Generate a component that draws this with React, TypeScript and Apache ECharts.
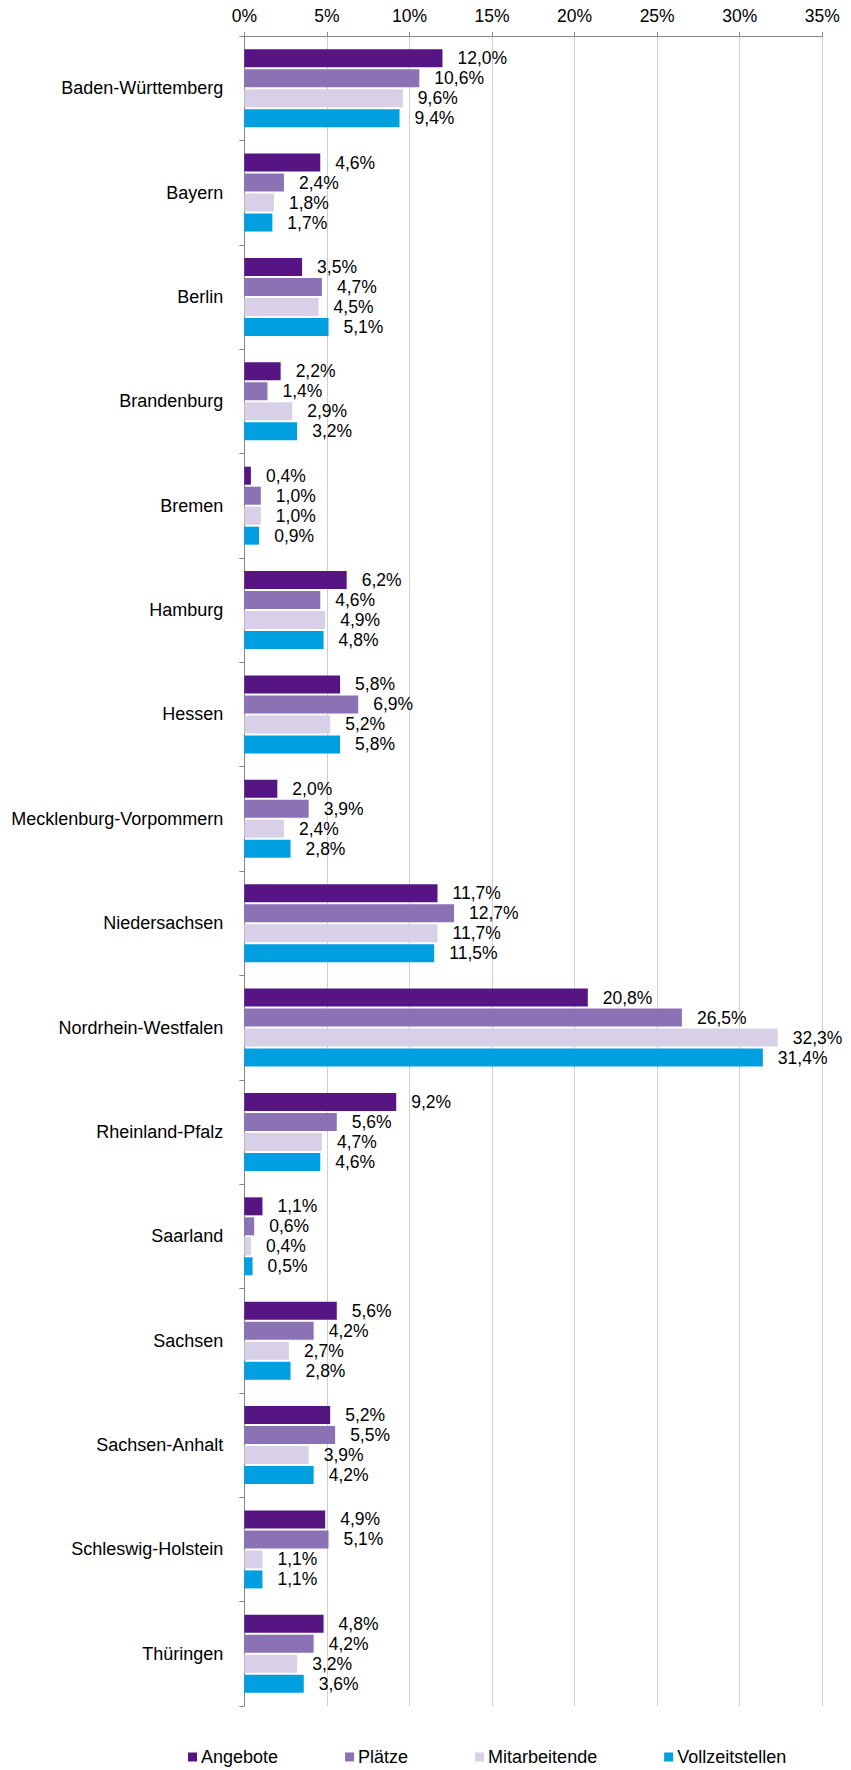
import React, { useEffect, useRef } from "react";
import * as echarts from "echarts";

const categories = [
  "Baden-Württemberg",
  "Bayern",
  "Berlin",
  "Brandenburg",
  "Bremen",
  "Hamburg",
  "Hessen",
  "Mecklenburg-Vorpommern",
  "Niedersachsen",
  "Nordrhein-Westfalen",
  "Rheinland-Pfalz",
  "Saarland",
  "Sachsen",
  "Sachsen-Anhalt",
  "Schleswig-Holstein",
  "Thüringen",
];

const angebote = [12.0, 4.6, 3.5, 2.2, 0.4, 6.2, 5.8, 2.0, 11.7, 20.8, 9.2, 1.1, 5.6, 5.2, 4.9, 4.8];
const plaetze = [10.6, 2.4, 4.7, 1.4, 1.0, 4.6, 6.9, 3.9, 12.7, 26.5, 5.6, 0.6, 4.2, 5.5, 5.1, 4.2];
const mitarbeitende = [9.6, 1.8, 4.5, 2.9, 1.0, 4.9, 5.2, 2.4, 11.7, 32.3, 4.7, 0.4, 2.7, 3.9, 1.1, 3.2];
const vollzeitstellen = [9.4, 1.7, 5.1, 3.2, 0.9, 4.8, 5.8, 2.8, 11.5, 31.4, 4.6, 0.5, 2.8, 4.2, 1.1, 3.6];

const seriesNames = ["Angebote", "Plätze", "Mitarbeitende", "Vollzeitstellen"];
const seriesData = [angebote, plaetze, mitarbeitende, vollzeitstellen];
const seriesColors = ["#561582", "#8b72b5", "#d8d0e7", "#009fdf"];

const xMin = 0;
const xMax = 35;
const xInterval = 5;

const FONT = "'Liberation Sans', Arial, sans-serif";

export default function App() {
  const ref = useRef<HTMLDivElement>(null);

  useEffect(() => {
    if (!ref.current) return;
    const chart = echarts.init(ref.current, undefined, { renderer: "svg" });
    const fmt = (v: number) => v.toFixed(1).replace(".", ",") + "%";
    chart.setOption({
      animation: false,
      textStyle: { fontFamily: FONT, color: "#000" },
      grid: { left: 244.3, top: 36, width: 578, height: 1670, containLabel: false },
      legend: {
        data: seriesNames,
        left: 188,
        top: 1748,
        icon: "rect",
        itemWidth: 9,
        itemHeight: 9,
        itemGap: 67,
        padding: 0,
        textStyle: { fontFamily: FONT, fontSize: 18, color: "#000", padding: [0, 0, 0, -1] },
      },
      xAxis: {
        type: "value",
        position: "top",
        min: xMin,
        max: xMax,
        interval: xInterval,
        axisLine: { show: true, lineStyle: { color: "#868686", width: 1 } },
        axisTick: { show: true, length: 4, lineStyle: { color: "#868686" } },
        axisLabel: {
          fontFamily: FONT,
          fontSize: 17.5,
          color: "#000",
          margin: 11,
          formatter: (v: number) => v + "%",
        },
        splitLine: { show: true, lineStyle: { color: "#cfcfcf", width: 1 } },
      },
      yAxis: {
        type: "category",
        inverse: true,
        data: categories,
        axisLine: { show: true, lineStyle: { color: "#868686", width: 1 } },
        axisTick: { show: true, length: 5, lineStyle: { color: "#868686" } },
        axisLabel: { fontFamily: FONT, fontSize: 18, color: "#000", margin: 21 },
      },
      series: seriesNames.map((name, i) => ({
        name,
        type: "bar",
        data: seriesData[i],
        barWidth: 18,
        barGap: "11%",
        itemStyle: { color: seriesColors[i] },
        label: {
          show: true,
          position: "right",
          distance: 15,
          fontFamily: FONT,
          fontSize: 17.5,
          color: "#000",
          formatter: (p: any) => fmt(p.value),
        },
      })),
    });
    return () => chart.dispose();
  }, []);

  return (
    <div
      ref={ref}
      style={{ position: "absolute", left: 0, top: 0, width: 851, height: 1770, background: "#fff" }}
    />
  );
}
